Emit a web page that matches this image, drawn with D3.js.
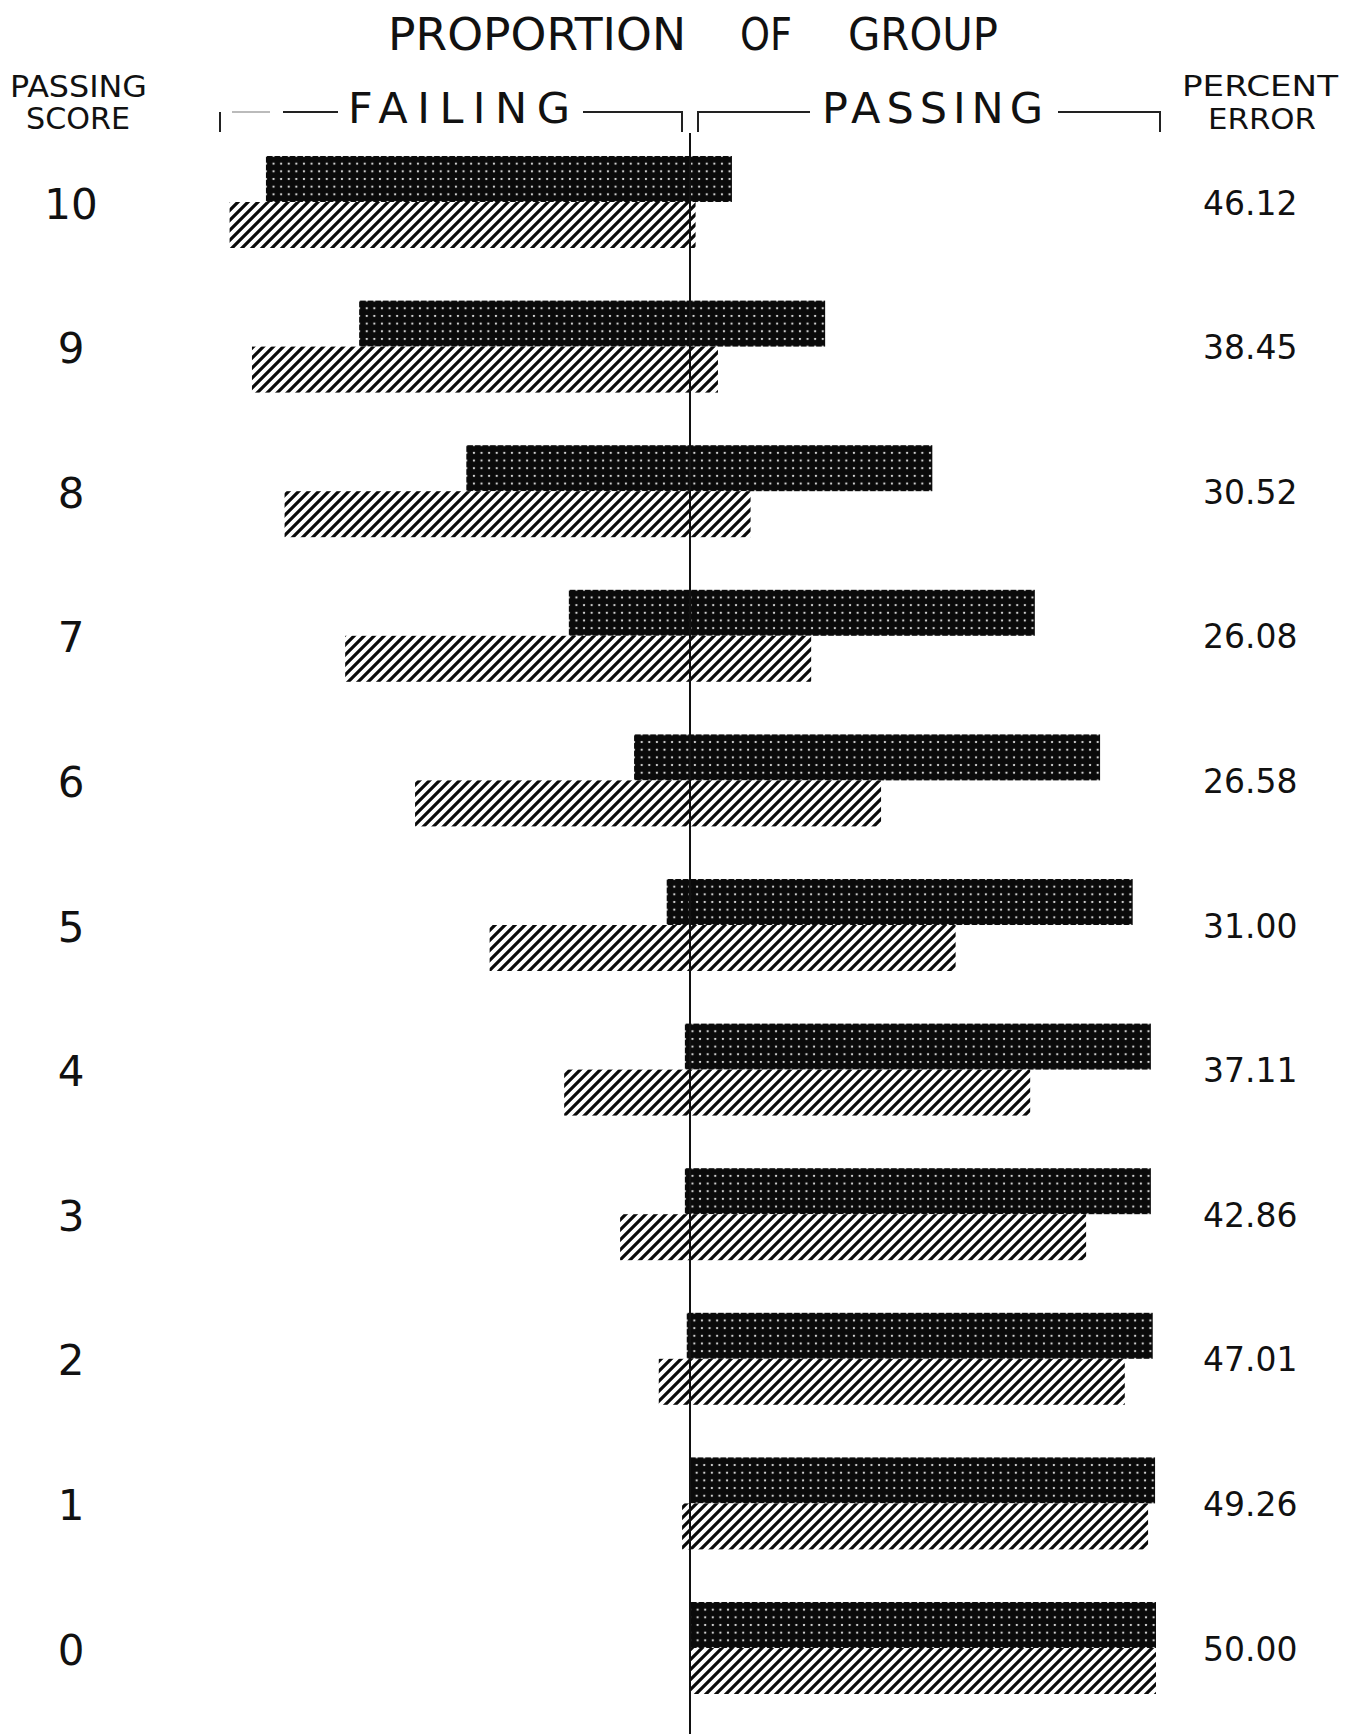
<!DOCTYPE html>
<html>
<head>
<meta charset="utf-8">
<script src="https://cdn.jsdelivr.net/npm/d3@7"></script>
<style>
  html, body { margin: 0; padding: 0; background: #fff; }
  svg { display: block; }
  text { font-family: "DejaVu Sans", "Liberation Sans", sans-serif; fill: #111; }
</style>
</head>
<body>
<svg id="chart"></svg>
<script>
// passing score (cut-off), top to bottom
const scores = [10, 9, 8, 7, 6, 5, 4, 3, 2, 1, 0];
// proportion of the group that fails at each cut-off (the rest passes)
const darkFailing = [0.91, 0.71, 0.48, 0.26, 0.12, 0.05, 0.011, 0.011, 0.007, 0.002, 0.0];
const hatchFailing = [0.988, 0.94, 0.87, 0.74, 0.59, 0.43, 0.27, 0.15, 0.067, 0.017, 0.0];
const percentError = [46.12, 38.45, 30.52, 26.08, 26.58, 31.00, 37.11, 42.86, 47.01, 49.26, 50.00];

const W = 1357, H = 1734;
const cx = 690, unit = 466, barH = 46;

const svg = d3.select("#chart").attr("width", W).attr("height", H);
svg.append("rect").attr("width", W).attr("height", H).attr("fill", "#fff");

const x = d3.scaleLinear().domain([-1, 1]).range([cx - unit, cx + unit]);
const y = d3.scalePoint().domain(scores).range([202, 1648]);

const rows = scores.map((s, i) => ({
    score: s,
    dark: darkFailing[i],
    hatch: hatchFailing[i],
    err: percentError[i]
}));

const defs = svg.append("defs");

// halftone dots, one pattern per row so the dot grid starts at the bar edge
const dotW = 7.6, dotH = barH / 6;
defs.selectAll("pattern.dots")
    .data(rows)
    .join("pattern")
    .attr("class", "dots")
    .attr("id", (d, i) => "dots" + i)
    .attr("patternUnits", "userSpaceOnUse")
    .attr("x", d => x(-d.dark))
    .attr("y", d => y(d.score) - barH)
    .attr("width", dotW)
    .attr("height", dotH)
    .call(p => {
        p.append("rect").attr("width", dotW).attr("height", dotH).attr("fill", "#fff");
        p.append("circle").attr("cx", dotW / 2).attr("cy", dotH / 2).attr("r", 4.55).attr("fill", "#0a0a0a");
    });

// diagonal hatching
const hatch = defs.append("pattern")
    .attr("id", "hatch")
    .attr("patternUnits", "userSpaceOnUse")
    .attr("width", 10)
    .attr("height", 10);
hatch.append("rect").attr("width", 10).attr("height", 10).attr("fill", "#fff");
hatch.append("path")
    .attr("d", "M-2.5,2.5L2.5,-2.5M0,10L10,0M7.5,12.5L12.5,7.5")
    .attr("stroke", "#0a0a0a")
    .attr("stroke-width", 3.2);

const bars = svg.append("g").attr("class", "bars");

bars.selectAll("rect.dark")
    .data(rows)
    .join("rect")
    .attr("class", "dark")
    .attr("x", d => x(-d.dark))
    .attr("y", d => y(d.score) - barH)
    .attr("width", d => x(1 - d.dark) - x(-d.dark))
    .attr("height", barH)
    .attr("fill", (d, i) => `url(#dots${i})`);

bars.selectAll("rect.hatch")
    .data(rows)
    .join("rect")
    .attr("class", "hatch")
    .attr("x", d => x(-d.hatch))
    .attr("y", d => y(d.score))
    .attr("width", d => x(1 - d.hatch) - x(-d.hatch))
    .attr("height", barH)
    .attr("fill", "url(#hatch)");

// centre line (zero)
svg.append("line")
    .attr("x1", x(0)).attr("x2", x(0))
    .attr("y1", 133).attr("y2", H)
    .attr("stroke", "#111")
    .attr("stroke-width", 2);

// score labels on the left
const scoreAxis = svg.append("g")
    .attr("transform", "translate(71,0)")
    .call(d3.axisLeft(y).tickSize(0).tickPadding(0));
scoreAxis.select(".domain").remove();
scoreAxis.selectAll("text")
    .attr("text-anchor", "middle")
    .attr("dy", null)
    .attr("y", 16)
    .style("font-family", "'DejaVu Sans', sans-serif")
    .style("font-size", "42px")
    .attr("fill", "#111");

// percent error labels on the right
const errAxis = svg.append("g")
    .attr("transform", "translate(1203,0)")
    .call(d3.axisRight(y).tickSize(0).tickPadding(0)
        .tickFormat((s, i) => percentError[scores.indexOf(s)].toFixed(2)));
errAxis.select(".domain").remove();
errAxis.selectAll("text")
    .attr("text-anchor", "start")
    .attr("dy", null)
    .attr("y", 12)
    .style("font-family", "'DejaVu Sans', sans-serif")
    .style("font-size", "33px")
    .attr("fill", "#111");

// headings
function label(txt, x0, base, size, len, adjust) {
    svg.append("text")
        .attr("x", x0)
        .attr("y", base)
        .attr("textLength", len)
        .attr("lengthAdjust", adjust)
        .style("font-size", size + "px")
        .text(txt);
}
label("PROPORTION", 388, 50, 44, 298, "spacingAndGlyphs");
label("OF", 740, 50, 44, 52, "spacingAndGlyphs");
label("GROUP", 848, 50, 44, 150, "spacingAndGlyphs");

label("PASSING", 10, 97, 30, 137, "spacingAndGlyphs");
label("SCORE", 26, 129, 30, 104, "spacingAndGlyphs");
label("PERCENT", 1182, 96, 28, 156, "spacingAndGlyphs");
label("ERROR", 1208, 129, 28, 108, "spacingAndGlyphs");

label("FAILING", 348, 123, 43, 222, "spacing");
label("PASSING", 822, 123, 43, 221, "spacing");

// brackets over the two halves
const bracket = svg.append("g")
    .attr("fill", "none")
    .attr("stroke", "#222")
    .attr("stroke-width", 2);
bracket.append("path").attr("d", "M220,132V112M283,112H338M583,112H682V132");
bracket.append("path").attr("d", "M232,112H270").attr("stroke", "#bbb");
bracket.append("path").attr("d", "M698,132V112H810M1058,112H1160V132");
</script>
</body>
</html>
